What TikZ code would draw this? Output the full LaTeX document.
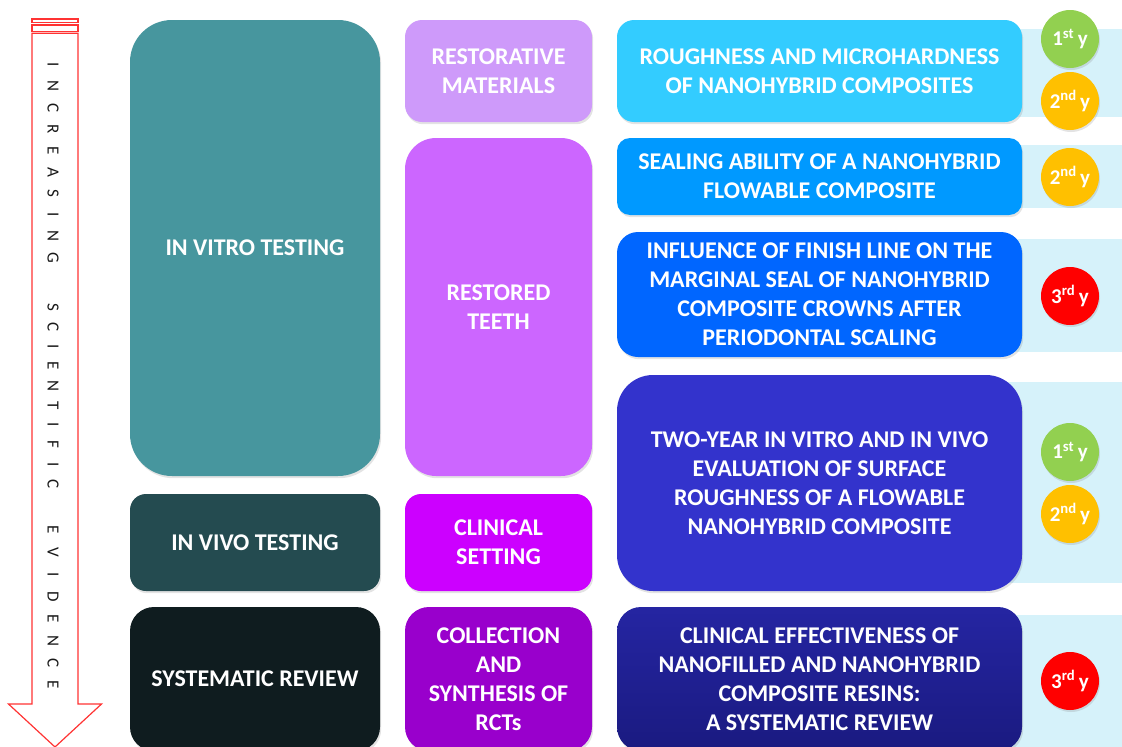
\documentclass[tikz,border=0pt]{standalone}
\usepackage{fontspec}
\setmainfont{Carlito}
\usetikzlibrary{shadows}

\definecolor{vitro}{HTML}{47969E}
\definecolor{vivo}{HTML}{244B50}
\definecolor{sysrev}{HTML}{0F1C1F}
\definecolor{restmat}{HTML}{CE9AFA}
\definecolor{restteeth}{HTML}{CC66FF}
\definecolor{clinset}{HTML}{CC00FF}
\definecolor{collect}{HTML}{9900CC}
\definecolor{rough}{HTML}{33CCFF}
\definecolor{seal}{HTML}{0099FF}
\definecolor{finish}{HTML}{0066FF}
\definecolor{twoyear}{HTML}{3333CC}
\definecolor{effTop}{HTML}{2525A2}
\definecolor{effBot}{HTML}{1A1A80}
\definecolor{strip}{HTML}{D6F2FA}
\definecolor{yfirst}{HTML}{92D050}
\definecolor{ysecond}{HTML}{FFC000}
\definecolor{ythird}{HTML}{FF0000}
\definecolor{arrowred}{HTML}{FF3333}

\tikzset{
  box/.style={text=white, align=center, inner sep=0pt,
    font=\fontsize{24}{29}\selectfont\bfseries,
    drop shadow={shadow xshift=1.2pt, shadow yshift=-2.2pt, opacity=0.22}},
  yearbadge/.style={circle, minimum size=58pt, inner sep=0pt, text=white,
    font=\fontsize{21}{24}\selectfont\bfseries,
    drop shadow={shadow xshift=1pt, shadow yshift=-2pt, opacity=0.22}},
  stripbg/.style={fill=strip, draw=none},
  arrowtxt/.style={rotate=-90, inner sep=0pt, text=black!90,
    font=\fontsize{17}{17}\selectfont},
  bigarrow/.style={draw=arrowred, fill=white, line width=1.2pt, line join=miter}
}

\begin{document}
\begin{tikzpicture}[x=1pt, y=-1pt]
\useasboundingbox (0,0) rectangle (1122,747);

% evidence arrow with its two stripes
\draw[bigarrow] (32,19) rectangle (78,22.3);
\draw[bigarrow] (32,25) rectangle (78,31.7);
\draw[bigarrow] (32,33.3) -- (78,33.3) -- (78,704) -- (101.5,704) -- (55,747)
  -- (8.5,704) -- (32,704) -- cycle;
\foreach \ch [count=\i from 0] in {I,N,C,R,E,A,S,I,N,G}
  \node[arrowtxt] (wa-\i) at (53,{65+21.4*\i}) {\ch};
\foreach \ch [count=\i from 0] in {S,C,I,E,N,T,I,F,I,C}
  \node[arrowtxt] (wb-\i) at (53,{307+19.67*\i}) {\ch};
\foreach \ch [count=\i from 0] in {E,V,I,D,E,N,C,E}
  \node[arrowtxt] (wc-\i) at (53,{530+22.1*\i}) {\ch};

% light strips behind the year badges
\fill[stripbg] (1000,29) rectangle (1122,117);
\fill[stripbg] (1000,145) rectangle (1122,208);
\fill[stripbg] (1000,239) rectangle (1122,352);
\fill[stripbg] (1000,382) rectangle (1122,583);
\fill[stripbg] (1000,615) rectangle (1122,760);

% first column: type of study
\node[box, fill=vitro, minimum width=250pt, minimum height=456pt, rounded corners=42pt]
  (vitro) at (255,248) {IN VITRO TESTING};
\node[box, fill=vivo, minimum width=250pt, minimum height=97pt, rounded corners=16pt]
  (vivo) at (255,542.5) {IN VIVO TESTING};
\node[box, fill=sysrev, minimum width=250pt, minimum height=144pt, rounded corners=24pt]
  (sysrev) at (255,679) {SYSTEMATIC REVIEW};

% second column: object of study
\node[box, fill=restmat, minimum width=187pt, minimum height=102pt, rounded corners=17pt]
  (restmat) at (498.5,71) {RESTORATIVE\\MATERIALS};
\node[box, fill=restteeth, minimum width=187pt, minimum height=338pt, rounded corners=31pt]
  (restteeth) at (498.5,307) {RESTORED\\TEETH};
\node[box, fill=clinset, minimum width=187pt, minimum height=97pt, rounded corners=16pt]
  (clinset) at (498.5,542.5) {CLINICAL\\SETTING};
\node[box, fill=collect, minimum width=187pt, minimum height=144pt, rounded corners=24pt]
  (collect) at (498.5,679) {COLLECTION\\AND\\SYNTHESIS OF\\RCTs};

% third column: studies
\node[box, fill=rough, minimum width=405pt, minimum height=102pt, rounded corners=17pt]
  (rough) at (819.5,71) {ROUGHNESS AND MICROHARDNESS\\OF NANOHYBRID COMPOSITES};
\node[box, fill=seal, minimum width=405pt, minimum height=77pt, rounded corners=13pt]
  (seal) at (819.5,176.5) {SEALING ABILITY OF A NANOHYBRID\\FLOWABLE COMPOSITE};
\node[box, fill=finish, minimum width=405pt, minimum height=125pt, rounded corners=21pt]
  (finish) at (819.5,294.5) {INFLUENCE OF FINISH LINE ON THE\\MARGINAL SEAL OF NANOHYBRID\\COMPOSITE CROWNS AFTER\\PERIODONTAL SCALING};
\node[box, fill=twoyear, minimum width=405pt, minimum height=216pt, rounded corners=36pt]
  (twoyear) at (819.5,483) {TWO-YEAR IN VITRO AND IN VIVO\\EVALUATION OF SURFACE\\ROUGHNESS OF A FLOWABLE\\NANOHYBRID COMPOSITE};
\node[box, top color=effTop, bottom color=effBot, minimum width=405pt, minimum height=144pt, rounded corners=24pt]
  (effect) at (819.5,679) {CLINICAL EFFECTIVENESS OF\\NANOFILLED AND NANOHYBRID\\COMPOSITE RESINS:\\A SYSTEMATIC REVIEW};

% year badges
\node[yearbadge, fill=yfirst]  (ya) at (1070,39)  {1\textsuperscript{st}\,y};
\node[yearbadge, fill=ysecond] (yb) at (1070,101) {2\textsuperscript{nd}\,y};
\node[yearbadge, fill=ysecond] (yc) at (1070,177) {2\textsuperscript{nd}\,y};
\node[yearbadge, fill=ythird]  (yd) at (1070,296) {3\textsuperscript{rd}\,y};
\node[yearbadge, fill=yfirst]  (ye) at (1070,452) {1\textsuperscript{st}\,y};
\node[yearbadge, fill=ysecond] (yf) at (1070,514) {2\textsuperscript{nd}\,y};
\node[yearbadge, fill=ythird]  (yg) at (1070,681) {3\textsuperscript{rd}\,y};
\end{tikzpicture}
\end{document}
